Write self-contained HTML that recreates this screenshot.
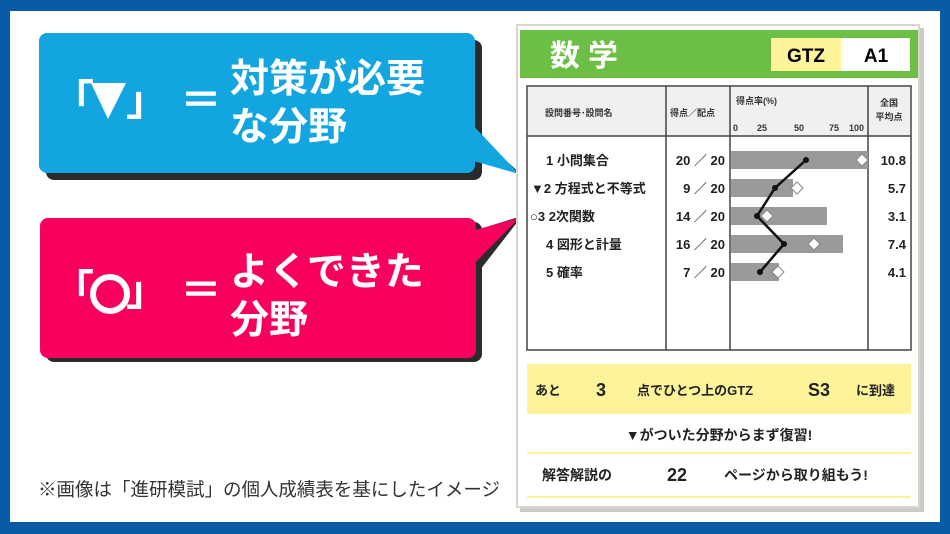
<!DOCTYPE html>
<html><head><meta charset="utf-8"><style>
body{margin:0;width:950px;height:534px;overflow:hidden;background:#0a5aa8;font-family:"Liberation Sans","Noto Sans CJK JP",sans-serif;}
.in{position:absolute;left:10px;top:11px;width:930px;height:511px;background:#fff;}
</style></head><body>
<div class="in"></div>
<svg width="950" height="534" style="position:absolute;left:0;top:0" font-family="Liberation Sans, Noto Sans CJK JP, sans-serif">
<g>
<rect x="46" y="40" width="436" height="140" rx="8" fill="#2b2b2b"/>
<polygon points="470,128 522,175 480,162" fill="#2b2b2b"/>
<rect x="39" y="33" width="436" height="140" rx="8" fill="#12a5e0"/>
<polygon points="468,120 519,174 470,160" fill="#12a5e0"/>
<rect x="46" y="222" width="436" height="140" rx="8" fill="#2b2b2b"/>
<polygon points="470,232 522,216 480,270" fill="#2b2b2b"/>
<rect x="40" y="218" width="436" height="140" rx="8" fill="#f8005e"/>
<polygon points="468,232 519,218 470,268" fill="#f8005e"/>
</g>
<g fill="#fff" font-weight="bold">
<text x="52" y="115" font-size="42">「</text>
<polygon points="91,83 126,83 108,119" />
<text x="126" y="115" font-size="42">」</text>
<text x="180" y="115" font-size="42">＝</text>
<text x="230" y="92" font-size="39">対策が必要</text>
<text x="230" y="140" font-size="39">な分野</text>
<text x="52" y="305" font-size="42">「</text>
<circle cx="110" cy="294" r="17" fill="none" stroke="#fff" stroke-width="6"/>
<text x="126" y="305" font-size="42">」</text>
<text x="180" y="305" font-size="42">＝</text>
<text x="230" y="285" font-size="39">よくできた</text>
<text x="230" y="333" font-size="39">分野</text>
</g>
<text x="38" y="496" font-size="18.5" fill="#333" textLength="462" lengthAdjust="spacingAndGlyphs">※画像は「進研模試」の個人成績表を基にしたイメージ</text>
<rect x="520" y="28" width="404" height="484" fill="#c9cbc4"/>
<rect x="517" y="25" width="402" height="482" fill="#fff" stroke="#d6d8d0" stroke-width="2"/>
<rect x="520" y="30" width="398" height="48" fill="#6cbe45"/>
<text x="550" y="66" font-size="30" font-weight="bold" fill="#fff" letter-spacing="8">数学</text>
<rect x="771" y="38" width="70" height="33" fill="#fdf39a"/>
<rect x="841" y="38" width="69" height="33" fill="#fff"/>
<text x="806" y="62" font-size="19" font-weight="bold" text-anchor="middle">GTZ</text>
<text x="876" y="62" font-size="19" font-weight="bold" text-anchor="middle">A1</text>
<rect x="527" y="86" width="384" height="264" fill="#fff" stroke="#444" stroke-width="1.5"/>
<rect x="528" y="87" width="382" height="49" fill="#f0f0f0"/>
<line x1="527" y1="136" x2="911" y2="136" stroke="#444" stroke-width="1.5"/>
<line x1="666" y1="86" x2="666" y2="350" stroke="#444" stroke-width="1.5"/>
<line x1="730" y1="86" x2="730" y2="350" stroke="#444" stroke-width="1.5"/>
<line x1="868" y1="86" x2="868" y2="350" stroke="#444" stroke-width="1.5"/>
<g font-size="9" fill="#333" font-weight="bold">
<text x="545" y="116">設問番号･設問名</text>
<text x="670" y="116">得点／配点</text>
<text x="736" y="104">得点率(%)</text>
<text x="733" y="131">0</text><text x="757" y="131">25</text><text x="794" y="131">50</text><text x="829" y="131">75</text><text x="849" y="131">100</text>
<text x="889" y="106" text-anchor="middle">全国</text><text x="889" y="120" text-anchor="middle">平均点</text>
</g>
<g fill="#9a9a9a">
<rect x="731" y="151" width="137" height="18"/>
<rect x="731" y="179" width="62" height="18"/>
<rect x="731" y="207" width="96" height="18"/>
<rect x="731" y="235" width="112" height="18"/>
<rect x="731" y="263" width="48" height="18"/>
</g>
<polyline points="806,160 775,188 757,216 784,244 760,272" fill="none" stroke="#111" stroke-width="2.5"/>
<g fill="#111"><circle cx="806" cy="160" r="3"/><circle cx="775" cy="188" r="3"/><circle cx="757" cy="216" r="3"/><circle cx="784" cy="244" r="3"/><circle cx="760" cy="272" r="3"/></g>
<g fill="#fff" stroke="#888" stroke-width="1">
<polygon points="862,154 868,160 862,166 856,160"/>
<polygon points="797,182 803,188 797,194 791,188"/>
<polygon points="767,210 773,216 767,222 761,216"/>
<polygon points="814,238 820,244 814,250 808,244"/>
<polygon points="778,266 784,272 778,278 772,272"/>
</g>
<g font-size="13" font-weight="bold" fill="#222">
<text x="546" y="165">1 小問集合</text>
<text x="531" y="193">▼2 方程式と不等式</text>
<text x="530" y="221">○3 2次関数</text>
<text x="546" y="249">4 図形と計量</text>
<text x="546" y="277">5 確率</text>
<g text-anchor="end">
<text x="725" y="165">20 ／ 20</text><text x="725" y="193">9 ／ 20</text><text x="725" y="221">14 ／ 20</text><text x="725" y="249">16 ／ 20</text><text x="725" y="277">7 ／ 20</text>
<text x="906" y="165">10.8</text><text x="906" y="193">5.7</text><text x="906" y="221">3.1</text><text x="906" y="249">7.4</text><text x="906" y="277">4.1</text>
</g>
</g>
<rect x="527" y="364" width="384" height="50" fill="#fdf39a"/>
<line x1="527" y1="453" x2="911" y2="453" stroke="#fdf39a" stroke-width="2"/>
<line x1="527" y1="497" x2="911" y2="497" stroke="#fdf39a" stroke-width="2"/>
<g font-weight="bold" fill="#222">
<text x="535" y="395" font-size="13">あと</text>
<text x="596" y="396" font-size="18">3</text>
<text x="637" y="395" font-size="13">点でひとつ上のGTZ</text>
<text x="808" y="396" font-size="18">S3</text>
<text x="856" y="395" font-size="13">に到達</text>
<text x="719" y="440" font-size="14" text-anchor="middle">▼がついた分野からまず復習!</text>
<text x="542" y="480" font-size="14">解答解説の</text>
<text x="667" y="481" font-size="18">22</text>
<text x="724" y="480" font-size="14">ページから取り組もう!</text>
</g>
</svg>
</body></html>
